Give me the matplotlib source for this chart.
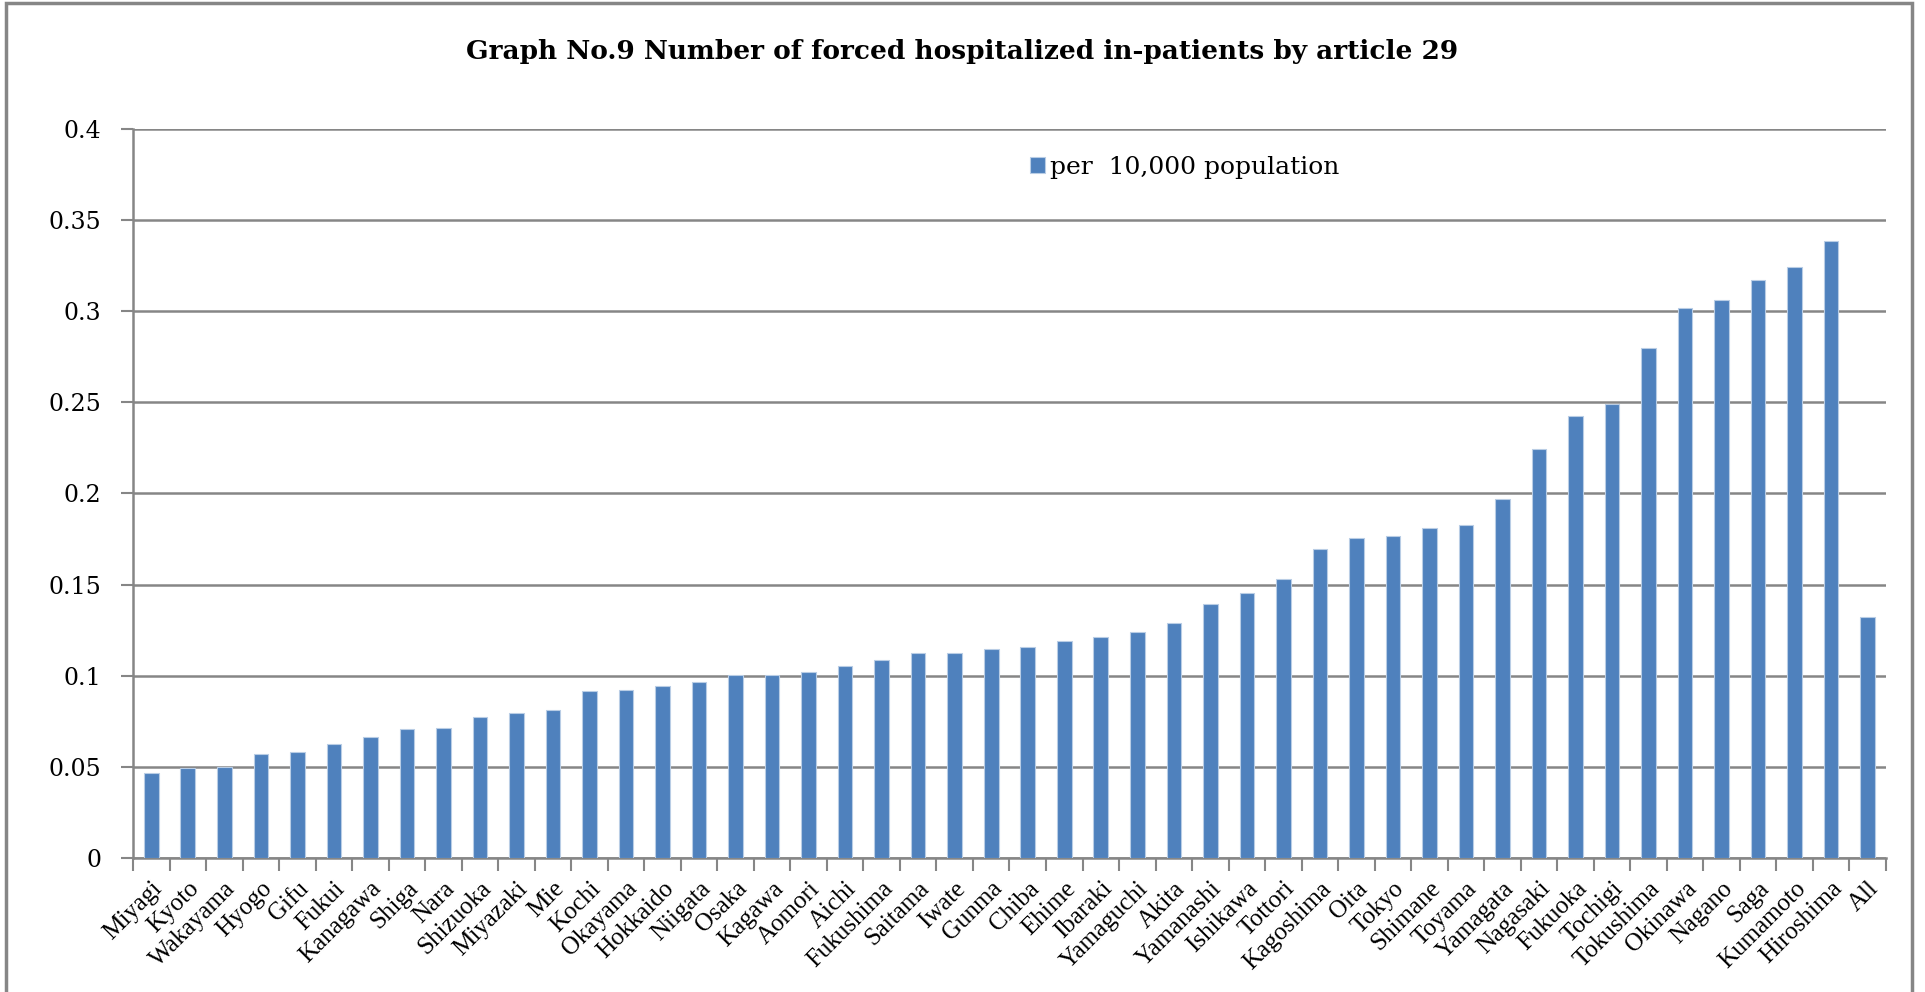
import matplotlib
matplotlib.use('Agg')
import matplotlib.pyplot as plt
from matplotlib.patches import Rectangle
from matplotlib.ticker import FixedLocator, NullFormatter

prefectures = ['Miyagi', 'Kyoto', 'Wakayama', 'Hyogo', 'Gifu', 'Fukui', 'Kanagawa', 'Shiga',
               'Nara', 'Shizuoka', 'Miyazaki', 'Mie', 'Kochi', 'Okayama', 'Hokkaido', 'Niigata',
               'Osaka', 'Kagawa', 'Aomori', 'Aichi', 'Fukushima', 'Saitama', 'Iwate', 'Gunma',
               'Chiba', 'Ehime', 'Ibaraki', 'Yamaguchi', 'Akita', 'Yamanashi', 'Ishikawa', 'Tottori',
               'Kagoshima', 'Oita', 'Tokyo', 'Shimane', 'Toyama', 'Yamagata', 'Nagasaki', 'Fukuoka',
               'Tochigi', 'Tokushima', 'Okinawa', 'Nagano', 'Saga', 'Kumamoto', 'Hiroshima', 'All']

per_10000 = [0.0469, 0.0493, 0.0500, 0.0573, 0.0579, 0.0623, 0.0663, 0.0709,
             0.0714, 0.0771, 0.0793, 0.0810, 0.0916, 0.0923, 0.0945, 0.0967,
             0.1002, 0.1005, 0.1018, 0.1053, 0.1084, 0.1126, 0.1126, 0.1145,
             0.1158, 0.1189, 0.1212, 0.1242, 0.1289, 0.1392, 0.1454, 0.1529,
             0.1698, 0.1755, 0.1769, 0.1811, 0.1828, 0.1968, 0.2242, 0.2423,
             0.2491, 0.2799, 0.3015, 0.3064, 0.3173, 0.3243, 0.3387, 0.1321]

y_ticks = [0, 0.05, 0.1, 0.15, 0.2, 0.25, 0.3, 0.35, 0.4]
y_tick_labels = ['0', '0.05', '0.1', '0.15', '0.2', '0.25', '0.3', '0.35', '0.4']

title = 'Graph No.9 Number of forced hospitalized in-patients by article 29'
series_name = 'per  10,000 population'

bar_color = '#4F81BD'
grid_color = '#868686'

fig = plt.figure(figsize=(19.25, 9.92), dpi=100, facecolor='white')
ax = fig.add_axes([0.0691, 0.1351, 0.9106, 0.7349])

x = list(range(len(prefectures)))
ax.bar(x, per_10000, width=0.4, color=bar_color, edgecolor='#B9CDE5', linewidth=0.8,
       label=series_name, zorder=3)

ax.set_xlim(-0.5, len(prefectures) - 0.5)
ax.set_ylim(0, 0.4)

# y axis
ax.set_yticks(y_ticks)
ax.set_yticklabels(y_tick_labels, family='DejaVu Serif', fontsize=17)
ax.yaxis.grid(True, color=grid_color, linewidth=1.8, zorder=0)
ax.tick_params(axis='y', direction='out', length=9, width=1.5, color=grid_color, pad=14)

# x axis: labels centred, tick marks between categories
ax.set_xticks(x)
ax.set_xticklabels(prefectures, rotation=45, ha='right', va='top',
                   rotation_mode='anchor', family='Liberation Serif', fontsize=18)
ax.tick_params(axis='x', which='major', length=0, pad=14)
ax.xaxis.set_minor_locator(FixedLocator([i - 0.5 for i in range(len(prefectures) + 1)]))
ax.xaxis.set_minor_formatter(NullFormatter())
ax.tick_params(axis='x', which='minor', direction='out', length=9, width=1.5, color=grid_color)

for side in ['top', 'right']:
    ax.spines[side].set_visible(False)
for side in ['left', 'bottom']:
    ax.spines[side].set_color(grid_color)
    ax.spines[side].set_linewidth(1.8)

leg = ax.legend(loc='center left', bbox_to_anchor=(0.499, 0.947), frameon=False,
                prop={'family': 'DejaVu Serif', 'size': 18}, handlelength=0.6,
                handleheight=0.6, handletextpad=0.2)

fig.text(0.5, 1 - 52 / 992, title, ha='center', va='center',
         family='DejaVu Serif', fontweight='bold', fontsize=19)

# chart area border
fig.patches.append(Rectangle((6 / 1925, -0.05), (1912 - 6) / 1925, 1.05 - 3 / 992,
                             transform=fig.transFigure, fill=False,
                             edgecolor=grid_color, linewidth=2.5))

fig.savefig('out.png', dpi=100, facecolor='white')
